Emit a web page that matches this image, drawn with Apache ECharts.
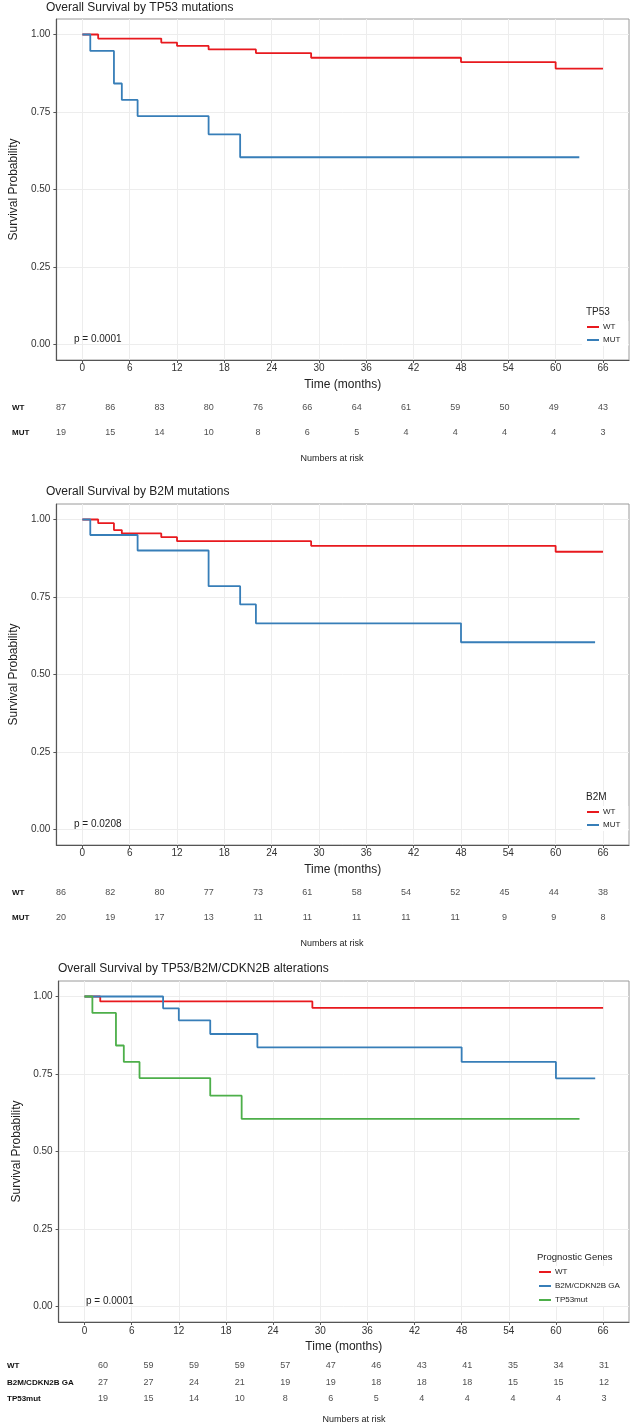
<!DOCTYPE html>
<html>
<head>
<meta charset="utf-8">
<script src="https://cdn.jsdelivr.net/npm/echarts@6/dist/echarts.min.js"></script>
<style>
html,body{margin:0;padding:0;background:#fff;}
#c{width:633px;height:1426px;}
</style>
</head>
<body>
<div id="c"></div>
<script>
// ---------- data ----------
const timeTicks = [0, 6, 12, 18, 24, 30, 36, 42, 48, 54, 60, 66];
const probTicks = [0, 0.25, 0.5, 0.75, 1];

// Panel 1: TP53
const p1Title = 'Overall Survival by TP53 mutations';
const p1Legend = 'TP53';
const p1P = 'p = 0.0001';
const p1Groups = ['WT', 'MUT'];
const p1WT = [[0,1],[2,0.987],[10,0.974],[12,0.963],[16,0.952],[22,0.940],[29,0.925],[48,0.911],[60,0.890],[66,0.890]];
const p1MUT = [[0,1],[1,0.947],[4,0.842],[5,0.789],[7,0.737],[16,0.678],[20,0.604],[63,0.604]];
const p1RiskWT = [87, 86, 83, 80, 76, 66, 64, 61, 59, 50, 49, 43];
const p1RiskMUT = [19, 15, 14, 10, 8, 6, 5, 4, 4, 4, 4, 3];

// Panel 2: B2M
const p2Title = 'Overall Survival by B2M mutations';
const p2Legend = 'B2M';
const p2P = 'p = 0.0208';
const p2Groups = ['WT', 'MUT'];
const p2WT = [[0,1],[2,0.988],[4,0.966],[5,0.955],[10,0.943],[12,0.930],[29,0.915],[60,0.896],[66,0.896]];
const p2MUT = [[0,1],[1,0.950],[7,0.900],[16,0.785],[20,0.726],[22,0.665],[48,0.604],[65,0.604]];
const p2RiskWT = [86, 82, 80, 77, 73, 61, 58, 54, 52, 45, 44, 38];
const p2RiskMUT = [20, 19, 17, 13, 11, 11, 11, 11, 11, 9, 9, 8];

// Panel 3: TP53/B2M/CDKN2B
const p3Title = 'Overall Survival by TP53/B2M/CDKN2B alterations';
const p3Legend = 'Prognostic Genes';
const p3P = 'p = 0.0001';
const p3Groups = ['WT', 'B2M/CDKN2B GA', 'TP53mut'];
const p3WT = [[0,1],[2,0.984],[29,0.963],[66,0.963]];
const p3B2M = [[0,1],[10,0.962],[12,0.923],[16,0.879],[22,0.836],[48,0.789],[60,0.736],[65,0.736]];
const p3TP53 = [[0,1],[1,0.947],[4,0.842],[5,0.789],[7,0.737],[16,0.680],[20,0.605],[63,0.605]];
const p3RiskWT = [60, 59, 59, 59, 57, 47, 46, 43, 41, 35, 34, 31];
const p3RiskB2M = [27, 27, 24, 21, 19, 19, 18, 18, 18, 15, 15, 12];
const p3RiskTP53 = [19, 15, 14, 10, 8, 6, 5, 4, 4, 4, 4, 3];

const xAxisName = 'Time (months)';
const yAxisName = 'Survival Probability';
const riskTitle = 'Numbers at risk';

// ---------- styling / layout ----------
const FONT = '"Liberation Sans", Arial, sans-serif';
const RED = '#E8191E', BLUE = '#377EB8', GREEN = '#4DAF4A';

const plots = [
  {left: 46, top: 19, width: 583, height: 341, yGap: 33, labMargin: 3},
  {left: 46, top: 504, width: 583, height: 341, yGap: 33, labMargin: 3},
  {left: 58.6, top: 981, width: 570.4, height: 341, yGap: 32, labMargin: 4}
];
const risks = [
  {left: 61, top: 395.5, width: 542, height: 50, labelX: 12},
  {left: 61, top: 880.5, width: 542, height: 50, labelX: 12},
  {left: 103, top: 1357.75, width: 501, height: 49.5, labelX: 7}
];

const grid = [], xAxis = [], yAxis = [], series = [];

plots.forEach((p, i) => {
  grid.push({left: p.left, top: p.top, width: p.width, height: p.height,
    show: true, borderColor: '#9a9a9a', borderWidth: 1, backgroundColor: 'transparent'});
  xAxis.push({
    gridIndex: 2 * i, type: 'value', min: -3.3, max: 69.3,
    name: xAxisName, nameLocation: 'middle', nameGap: 19,
    nameTextStyle: {fontSize: 12, color: '#222', fontFamily: FONT},
    axisLine: {show: true, onZero: false, lineStyle: {color: '#555', width: 1.2}},
    axisTick: {show: true, length: 3, customValues: timeTicks, lineStyle: {color: '#555'}},
    axisLabel: {customValues: timeTicks, fontSize: 10, color: '#333', margin: p.labMargin, fontFamily: FONT},
    splitLine: {show: true, lineStyle: {color: '#ededed', width: 1}}
  });
  yAxis.push({
    gridIndex: 2 * i, type: 'value', min: -0.05, max: 1.05,
    name: yAxisName, nameLocation: 'middle', nameGap: p.yGap,
    nameTextStyle: {fontSize: 12, color: '#222', fontFamily: FONT},
    axisLine: {show: true, onZero: false, lineStyle: {color: '#555', width: 1.2}},
    axisTick: {show: true, length: 3, customValues: probTicks, lineStyle: {color: '#555'}},
    axisLabel: {customValues: probTicks, fontSize: 10, color: '#333', margin: 6, fontFamily: FONT,
      formatter: v => Number(v).toFixed(2)},
    splitLine: {show: true, lineStyle: {color: '#ededed', width: 1}}
  });
  const r = risks[i];
  grid.push({left: r.left, top: r.top, width: r.width, height: r.height});
  xAxis.push({gridIndex: 2 * i + 1, type: 'value', min: 0, max: 66, show: false});
  const groups = [p1Groups, p2Groups, p3Groups][i];
  yAxis.push({
    gridIndex: 2 * i + 1, type: 'category', inverse: true, data: groups,
    axisLine: {show: false}, axisTick: {show: false}, splitLine: {show: false},
    axisLabel: {align: 'left', margin: r.left - r.labelX, fontSize: 8, fontWeight: 'bold', color: '#111', fontFamily: FONT}
  });
});

function kmSeries(name, data, color, idx) {
  return {
    name: name, type: 'line', step: 'end', data: data,
    xAxisIndex: idx, yAxisIndex: idx, symbol: 'none', showSymbol: false,
    lineStyle: {color: color, width: 1.8}, itemStyle: {color: color},
    animation: false, silent: true
  };
}
series.push(kmSeries('WT', p1WT, RED, 0));
series.push(kmSeries('MUT', p1MUT, BLUE, 0));
series.push(kmSeries('WT', p2WT, RED, 2));
series.push(kmSeries('MUT', p2MUT, BLUE, 2));
series.push(kmSeries('WT', p3WT, RED, 4));
series.push(kmSeries('B2M/CDKN2B GA', p3B2M, BLUE, 4));
series.push(kmSeries('TP53mut', p3TP53, GREEN, 4));

function riskSeries(id, group, counts, idx) {
  return {
    id: id, type: 'scatter', xAxisIndex: idx, yAxisIndex: idx,
    data: counts.map((n, k) => [timeTicks[k], group, n]),
    symbolSize: 1, itemStyle: {color: 'rgba(0,0,0,0)'},
    label: {show: true, position: 'inside', formatter: p => String(p.value[2]),
      fontSize: 9, color: '#222', fontFamily: FONT},
    animation: false, silent: true
  };
}
series.push(riskSeries('r1a', 'WT', p1RiskWT, 1));
series.push(riskSeries('r1b', 'MUT', p1RiskMUT, 1));
series.push(riskSeries('r2a', 'WT', p2RiskWT, 3));
series.push(riskSeries('r2b', 'MUT', p2RiskMUT, 3));
series.push(riskSeries('r3a', 'WT', p3RiskWT, 5));
series.push(riskSeries('r3b', 'B2M/CDKN2B GA', p3RiskB2M, 5));
series.push(riskSeries('r3c', 'TP53mut', p3RiskTP53, 5));

function mkLegend(names, left, top, gap) {
  return {
    data: names, orient: 'vertical', left: left, top: top,
    itemWidth: 12, itemHeight: 10, itemGap: gap,
    icon: 'path://M0,0 L12,0 L12,2 L0,2 Z',
    backgroundColor: '#fff', padding: [2, 8, 2, 5],
    textStyle: {fontSize: 8, color: '#222', fontFamily: FONT, padding: [0, 0, 0, -1]},
    selectedMode: false
  };
}
const legend = [
  mkLegend(p1Groups, 582, 321, 5),
  mkLegend(p2Groups, 582, 806, 5),
  mkLegend(p3Groups, 534, 1266, 6)
];

function txt(text, x, y, size, align, color) {
  return {type: 'text', x: x, y: y, silent: true, z: 100,
    style: {text: text, fontSize: size, fontFamily: FONT, fill: color || '#222',
      align: align || 'left', verticalAlign: 'middle'}};
}
const graphic = [
  txt(p1Title, 46, 8, 12),
  txt(p2Title, 46, 492, 12),
  txt(p3Title, 58, 969, 12),
  txt(p1Legend, 586, 312, 10),
  txt(p2Legend, 586, 797, 10),
  txt(p3Legend, 537, 1257, 9.5),
  txt(p1P, 74, 339, 10),
  txt(p2P, 74, 824, 10),
  txt(p3P, 86, 1301, 10),
  txt(riskTitle, 332, 459, 9, 'center'),
  txt(riskTitle, 332, 944, 9, 'center'),
  txt(riskTitle, 354, 1420, 9, 'center')
];

const chart = echarts.init(document.getElementById('c'), null, {renderer: 'canvas'});
chart.setOption({
  animation: false,
  backgroundColor: '#fff',
  textStyle: {fontFamily: FONT},
  grid: grid, xAxis: xAxis, yAxis: yAxis, series: series,
  legend: legend, graphic: graphic
});
</script>
</body>
</html>
